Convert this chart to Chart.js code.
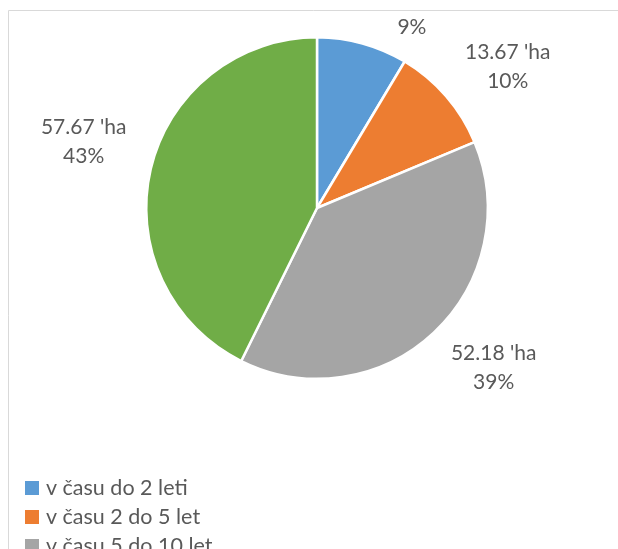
<!DOCTYPE html>
<html>
<head>
<meta charset="utf-8">
<script src="https://cdn.jsdelivr.net/npm/chart.js@4.4.1/dist/chart.umd.min.js"></script>
<style>
  html, body { margin: 0; padding: 0; background: #fff; overflow: hidden; }
</style>
</head>
<body>
<canvas id="pie" width="618" height="620"></canvas>
<script>
const categories = ['v času do 2 leti', 'v času 2 do 5 let', 'v času 5 do 10 let', 'v času nad 10 let'];
const areaValues = [11.6, 13.67, 52.18, 57.67];
const sliceColors = ['#5B9BD5', '#ED7D31', '#A5A5A5', '#70AD47'];
const unitSuffix = " 'ha";

const textColor = '#595959';
const fontName = 'Lato, "Open Sans", sans-serif';

// labels, legend and the chart frame (Excel-like)
const excelDecor = {
  id: 'excelDecor',
  afterDraw(chart) {
    const c = chart.ctx;
    const meta = chart.getDatasetMeta(0);
    const total = areaValues.reduce((a, b) => a + b, 0);

    // frame
    c.save();
    c.strokeStyle = '#D9D9D9';
    c.lineWidth = 1;
    c.beginPath();
    c.moveTo(8.5, 700);
    c.lineTo(8.5, 10.5);
    c.lineTo(700, 10.5);
    c.stroke();
    c.restore();

    // data labels, clipped to the frame
    c.save();
    c.beginPath();
    c.rect(9, 11, 700, 700);
    c.clip();
    c.font = '21px ' + fontName;
    c.fillStyle = textColor;
    c.textAlign = 'center';
    c.textBaseline = 'middle';
    const lineH = 29;
    meta.data.forEach((arc, i) => {
      const mid = (arc.startAngle + arc.endAngle) / 2;
      const ux = Math.cos(mid), uy = Math.sin(mid);
      const lines = [areaValues[i].toFixed(2) + unitSuffix, Math.round(areaValues[i] / total * 100) + '%'];
      const w = Math.max(...lines.map(t => c.measureText(t).width));
      const h = lineH * lines.length;
      const cx = arc.x + ux * (arc.outerRadius + 25) + Math.sign(ux) * w / 2;
      const cy = arc.y + uy * (arc.outerRadius + 5) + Math.sign(uy) * h / 2 + 3;
      lines.forEach((t, k) => {
        c.fillText(t, cx, cy - h / 2 + lineH * (k + 0.5));
      });
    });
    c.restore();

    // legend
    c.save();
    c.font = '21.5px ' + fontName;
    c.textAlign = 'left';
    c.textBaseline = 'middle';
    categories.forEach((lab, i) => {
      const y = 488 + i * 29;
      c.fillStyle = sliceColors[i];
      c.fillRect(25, y - 7, 14, 14);
      c.fillStyle = textColor;
      c.fillText(lab, 46, y);
    });
    c.restore();
  }
};

new Chart(document.getElementById('pie'), {
  type: 'pie',
  data: {
    labels: categories,
    datasets: [{
      data: areaValues,
      backgroundColor: sliceColors,
      borderColor: '#ffffff',
      borderWidth: 2.5
    }]
  },
  options: {
    responsive: false,
    animation: false,
    layout: {
      padding: { left: 145, right: 129, top: 36, bottom: 240 }
    },
    plugins: {
      legend: { display: false },
      tooltip: { enabled: false }
    }
  },
  plugins: [excelDecor]
});
</script>
</body>
</html>
